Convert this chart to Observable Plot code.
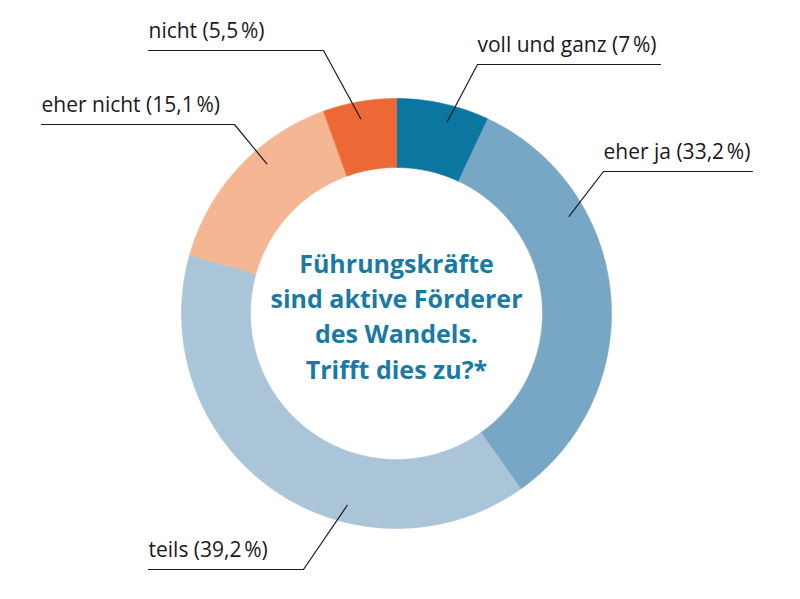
<!DOCTYPE html>
<html><head><meta charset="utf-8">
<script src="https://cdn.jsdelivr.net/npm/d3@7"></script>
<script src="https://cdn.jsdelivr.net/npm/@observablehq/plot@0.6"></script>
<style>html,body{margin:0;padding:0;background:#fff}svg{display:block}</style>
</head><body><div id="chart"></div>
<script>
// ---- data ----
const categories = ["voll und ganz", "eher ja", "teils", "eher nicht", "nicht"];
const values = [7, 33.2, 39.2, 15.1, 5.5];
const valueLabels = ["7", "33,2", "39,2", "15,1", "5,5"];
const colors = ["#0b77a1", "#77a7c4", "#aac4d8", "#f5b693", "#ec6834"];
const centerTitle = ["Führungskräfte", "sind aktive Förderer", "des Wandels.", "Trifft dies zu?*"];

// ---- layout (pixel offsets from ring centre) ----
const W = 800, H = 599, CX = 396, CY = 313;
const R_IN = 146, R_OUT = 215, R_TIP = 198;
// tip angle (deg clockwise from top), elbow point, far end of underline
const labelLayout = [
  {tipDeg: 14.8,  elbow: [81, -249],   end: 264},
  {tipDeg: 60.6,  elbow: [207, -142],  end: 356},
  {tipDeg: 194.4, elbow: [-93, 256],   end: -248},
  {tipDeg: 319.1, elbow: [-162, -189], end: -355},
  {tipDeg: 349.6, elbow: [-73, -263],  end: -248}
];

// ---- geometry from data ----
const pie = d3.pie().sort(null).startAngle(0).endAngle(2 * Math.PI)(values);
const pt = (a, r) => [r * Math.sin(a), -r * Math.cos(a)];
const slicePts = [];
pie.forEach((p, i) => {
  const n = Math.max(4, Math.ceil((p.endAngle - p.startAngle) / 0.005));
  const arc = d3.range(n + 1).map(k => p.startAngle + (p.endAngle - p.startAngle) * k / n);
  arc.forEach(a => { const [x, y] = pt(a, R_OUT); slicePts.push({cat: categories[i], x, y}); });
  arc.slice().reverse().forEach(a => { const [x, y] = pt(a, R_IN); slicePts.push({cat: categories[i], x, y}); });
});

const leaders = [];
const labels = [];
categories.forEach((c, i) => {
  const L = labelLayout[i];
  const [tx, ty] = pt(L.tipDeg * Math.PI / 180, R_TIP);
  leaders.push({cat: c, x: tx, y: ty}, {cat: c, x: L.elbow[0], y: L.elbow[1]}, {cat: c, x: L.end, y: L.elbow[1]});
  labels.push({
    text: `${c} (${valueLabels[i]}\u202F%)`,
    x: Math.min(L.elbow[0], L.end),
    y: L.elbow[1] - 13
  });
});

const chart = Plot.plot({
  width: W, height: H,
  margin: 0,
  x: {domain: [-CX, W - CX], range: [0, W], axis: null},
  y: {domain: [-CY, H - CY], range: [0, H], axis: null},
  color: {domain: categories, range: colors},
  style: {background: "#fff"},
  marks: [
    Plot.line(slicePts, {x: "x", y: "y", z: "cat", fill: "cat", stroke: "cat", strokeWidth: 0.6, curve: "linear-closed"}),
    Plot.line(leaders, {x: "x", y: "y", z: "cat", stroke: "#1a1a1a", strokeWidth: 1.2}),
    Plot.text(labels, {x: "x", y: "y", text: "text", textAnchor: "start", lineAnchor: "bottom",
      fontSize: 21, fill: "#1a1a1a", fontFamily: "Open Sans"}),
    Plot.text([centerTitle.join("\n")], {x: 0, y: 1, text: d => d, lineAnchor: "middle", lineHeight: 1.41,
      fontSize: 25, fontWeight: "bold", fill: "#1b7aa4", fontFamily: "Open Sans"})
  ]
});
document.getElementById("chart").appendChild(chart);
</script>
</body></html>
